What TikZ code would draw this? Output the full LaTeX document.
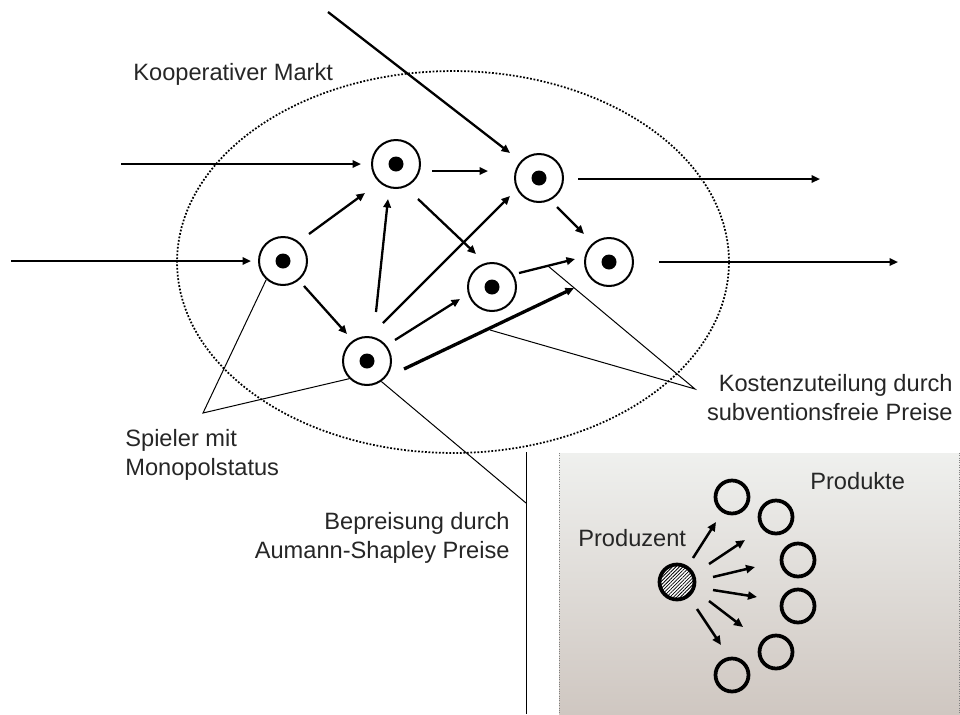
\documentclass[tikz,border=0pt]{standalone}
\usepackage{fontspec}
\setmainfont{Liberation Sans}
\usetikzlibrary{arrows.meta,patterns.meta,calc}

\definecolor{txt}{RGB}{38,38,38}
\definecolor{boxtop}{RGB}{239,240,238}
\definecolor{boxbot}{RGB}{207,199,193}

\begin{document}
\begin{tikzpicture}[x=0.02cm,y=-0.02cm,
  player/.style={circle,draw,line width=0.04cm,minimum size=0.96cm,inner sep=0pt,
    path picture={\fill (path picture bounding box.center) circle[radius=0.15cm];}},
  flow/.style={line width=0.046cm,-{Triangle[length=0.17cm,width=0.15cm]}},
  heavy/.style={flow,line width=0.066cm},
  thinflow/.style={line width=0.05cm,-{Triangle[length=0.18cm,width=0.16cm]}},
  callout/.style={line width=0.02cm},
  lbl/.style={inner sep=0pt,text=txt,font=\fontsize{13.45pt}{16.4pt}\selectfont},
  product/.style={circle,draw,line width=0.075cm,minimum size=0.66cm,inner sep=0pt},
  producer/.style={circle,draw,line width=0.075cm,minimum size=0.70cm,inner sep=0pt,
    preaction={fill=white},pattern={Lines[angle=45,distance=1.4pt,line width=0.45pt]}},
  market/.style={line width=0.035cm,dash pattern=on 0.035cm off 0.035cm}
]
\useasboundingbox (0,0) rectangle (960,714);

% inset panel: one producer, several products
\shade[top color=boxtop,bottom color=boxbot] (559,453) rectangle (960,714);
\draw[gray,densely dotted,line width=0.012cm] (559,453) -- (559,714);
\draw[gray,densely dotted,line width=0.012cm] (959,453) -- (959,714);

% cooperative market boundary
\draw[market] (453,262) ellipse[x radius=5.52cm,y radius=3.82cm];

% players
\node[player] (A) at (283,261) {};
\node[player] (B) at (396,164) {};
\node[player] (C) at (539,178) {};
\node[player] (D) at (609,262) {};
\node[player] (E) at (492,287) {};
\node[player] (F) at (367,361) {};

% external flows
\coordinate (inB) at (121,164);
\coordinate (inA) at (11,261);
\coordinate (inC) at (328,12);
\coordinate (outC) at (820,179);
\coordinate (outD) at (898,262);
\draw[flow] (inB) -- ($(B)+(-35,0)$);
\draw[flow] (inA) -- ($(A)+(-32,0)$);
\draw[flow] (inC) -- ($(C)+(-29,-25)$);
\draw[flow] ($(C)+(39,1)$) -- (outC);
\draw[flow] ($(D)+(50,0)$) -- (outD);

% internal flows
\draw[flow] ($(A)+(26,-27)$) -- ($(B)+(-31,29)$);
\draw[flow] ($(A)+(21,25)$) -- ($(F)+(-20,-27)$);
\draw[flow] ($(F)+(9,-49)$) -- ($(B)+(-8,35)$);
\draw[flow] ($(B)+(22,35)$) -- ($(E)+(-16,-33)$);
\draw[flow] ($(F)+(16,-38)$) -- ($(C)+(-29,18)$);
\draw[flow] ($(F)+(28,-21)$) -- ($(E)+(-32,12)$);
\draw[heavy] ($(F)+(37,8)$) -- ($(D)+(-35,26)$);
\draw[flow] ($(E)+(27,-14)$) -- ($(D)+(-34,-3)$);
\draw[flow] ($(C)+(18,29)$) -- ($(D)+(-25,-28)$);
\draw[flow] ($(B)+(36,7)$) -- ($(C)+(-51,-7)$);

% callouts
\coordinate (sp) at (203,413);
\draw[callout] (A.228) -- (sp) -- (F.225);
\coordinate (ko) at (695,389);
\coordinate (koED) at (548,266);
\coordinate (koFD) at (490,330);
\draw[callout] (koED) -- (ko) -- (koFD);
\coordinate (bpTop) at (526,452);
\coordinate (bpJoin) at (526,503);
\coordinate (bpBot) at (526,714);
\draw[callout] (F.305) -- (bpJoin);
\draw[callout] (bpTop) -- (bpBot);

% labels
\node[lbl,anchor=base west] (title) at (133,80) {Kooperativer Markt};
\node[lbl,anchor=base west] (sp1) at (125,446) {Spieler mit};
\node[lbl,anchor=base west] (sp2) at (125,475) {Monopolstatus};
\node[lbl,anchor=base east] (ko1) at (953,391) {Kostenzuteilung durch};
\node[lbl,anchor=base east] (ko2) at (953,420) {subventionsfreie Preise};
\node[lbl,anchor=base east] (bp1) at (510,529) {Bepreisung durch};
\node[lbl,anchor=base east] (bp2) at (510,558) {Aumann-Shapley Preise};

% producer and products
\node[producer] (P) at (677,582) {};
\node[product] (Q1) at (732,497) {};
\node[product] (Q2) at (776,517) {};
\node[product] (Q3) at (798,560) {};
\node[product] (Q4) at (798,606) {};
\node[product] (Q5) at (776,652) {};
\node[product] (Q6) at (732,675) {};
\draw[thinflow] ($(P)+(16,-24)$) -- ($(Q1)+(-16,25)$);
\draw[thinflow] ($(P)+(32,-18)$) -- ($(Q2)+(-31,23)$);
\draw[thinflow] ($(P)+(36,-5)$) -- ($(Q3)+(-43,7)$);
\draw[thinflow] ($(P)+(36,8)$) -- ($(Q4)+(-41,-9)$);
\draw[thinflow] ($(P)+(32,19)$) -- ($(Q5)+(-33,-25)$);
\draw[thinflow] ($(P)+(20,27)$) -- ($(Q6)+(-11,-30)$);
\node[lbl,anchor=base west] (prodz) at (578,546) {Produzent};
\node[lbl,anchor=base west] (prodk) at (810,489) {Produkte};
\end{tikzpicture}
\end{document}
